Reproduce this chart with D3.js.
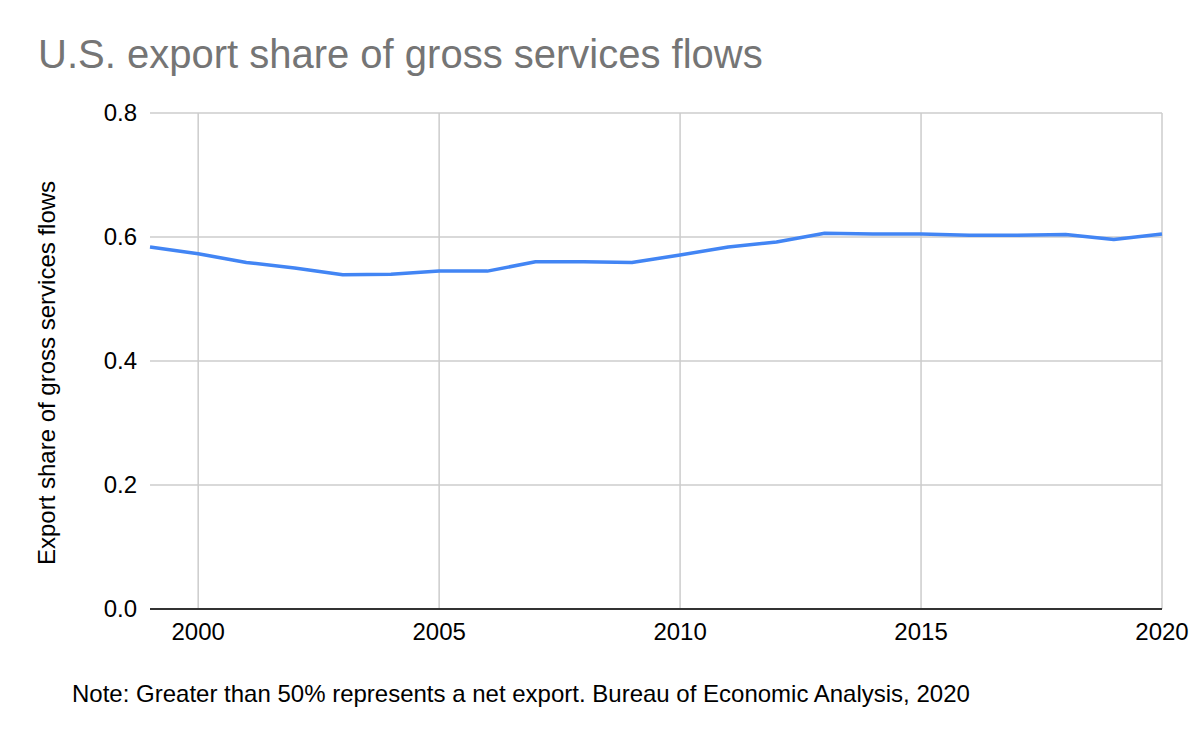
<!DOCTYPE html>
<html>
<head>
<meta charset="utf-8">
<script src="https://cdn.jsdelivr.net/npm/d3@7"></script>
<style>
  body { margin: 0; background: #fff; }
  svg { display: block; font-family: "Liberation Sans", Arial, sans-serif; }
  .grid line { stroke: #cccccc; stroke-width: 1.5; }
  .tick-label { font-size: 24px; fill: #000; }
</style>
</head>
<body>
<svg id="chart" width="1200" height="742"></svg>
<script>
// data
var years = [1999, 2000, 2001, 2002, 2003, 2004, 2005, 2006, 2007, 2008, 2009,
             2010, 2011, 2012, 2013, 2014, 2015, 2016, 2017, 2018, 2019, 2020];
var exportShare = [0.584, 0.573, 0.559, 0.550, 0.539, 0.540, 0.545, 0.545, 0.560, 0.560, 0.559,
                   0.571, 0.584, 0.592, 0.606, 0.605, 0.605, 0.603, 0.603, 0.604, 0.596, 0.605];
var yTicks = [0, 0.2, 0.4, 0.6, 0.8];
var xTicks = [2000, 2005, 2010, 2015, 2020];

var titleText = "U.S. export share of gross services flows";
var yLabel = "Export share of gross services flows";
var noteText = "Note: Greater than 50% represents a net export. Bureau of Economic Analysis, 2020";

var margin = { left: 150, right: 38, top: 113, bottom: 133 };
var W = 1200, H = 742;
var w = W - margin.left - margin.right, h = H - margin.top - margin.bottom;

var svg = d3.select('#chart');

var x = d3.scaleLinear().domain([1999, 2020]).range([0, w]);
var y = d3.scaleLinear().domain([0, 0.8]).range([h, 0]);

svg.append('text')
  .attr('x', 38).attr('y', 68)
  .attr('font-size', 40).attr('fill', '#757575')
  .text(titleText);

var g = svg.append('g').attr('transform', 'translate(' + margin.left + ',' + margin.top + ')');

// horizontal grid
var gy = g.append('g').attr('class', 'grid');
gy.selectAll('line').data(yTicks.filter(function(d){ return d > 0; })).enter().append('line')
  .attr('x1', 0).attr('x2', w)
  .attr('y1', function(d){ return y(d); }).attr('y2', function(d){ return y(d); });

// vertical grid
var gx = g.append('g').attr('class', 'grid');
gx.selectAll('line').data(xTicks).enter().append('line')
  .attr('x1', function(d){ return x(d); }).attr('x2', function(d){ return x(d); })
  .attr('y1', 0).attr('y2', h);

// y tick labels
g.selectAll('text.ylab').data(yTicks).enter().append('text')
  .attr('class', 'ylab tick-label')
  .attr('x', -13).attr('y', function(d){ return y(d); })
  .attr('dy', '0.35em').attr('text-anchor', 'end')
  .text(function(d){ return d3.format('.1f')(d); });

// x tick labels
g.selectAll('text.xlab').data(xTicks).enter().append('text')
  .attr('class', 'xlab tick-label')
  .attr('x', function(d){ return x(d); }).attr('y', h + 31)
  .attr('text-anchor', 'middle')
  .text(function(d){ return d; });

// baseline
g.append('line')
  .attr('x1', 0).attr('x2', w).attr('y1', y(0)).attr('y2', y(0))
  .attr('stroke', '#333').attr('stroke-width', 2);

// series line
var line = d3.line()
  .x(function(d, i){ return x(years[i]); })
  .y(function(d){ return y(d); });

g.append('path')
  .datum(exportShare)
  .attr('d', line)
  .attr('fill', 'none')
  .attr('stroke', '#4285f4')
  .attr('stroke-width', 3.5)
  .attr('stroke-linejoin', 'round');

// y axis title
svg.append('text')
  .attr('transform', 'translate(55,373) rotate(-90)')
  .attr('text-anchor', 'middle')
  .attr('class', 'tick-label')
  .text(yLabel);

// note
svg.append('text')
  .attr('x', 72).attr('y', 702)
  .attr('class', 'tick-label')
  .text(noteText);
</script>
</body>
</html>
